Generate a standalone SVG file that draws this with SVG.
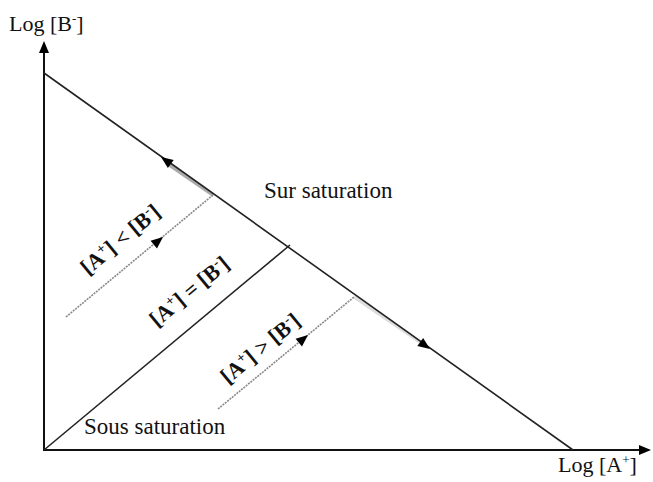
<svg xmlns="http://www.w3.org/2000/svg" width="653" height="482" viewBox="0 0 653 482">
<style>
.lbl{font-family:"Liberation Serif","Times New Roman",serif;font-size:22px;fill:#111}
.big{font-size:23px}
.rot{font-family:"Liberation Serif","Times New Roman",serif;font-size:22px;font-weight:bold;fill:#111}
.ax{stroke:#111;stroke-width:2;fill:none}
.ln{stroke:#222;stroke-width:1.6;fill:none}
.dot{stroke:#888;stroke-width:1.6;stroke-dasharray:2 1;fill:none}
.ah{fill:#000}
</style>
<rect width="653" height="482" fill="#fff"/>
<g id="connectors">
  <path class="ax" d="M44,451 V50"/>
  <path class="ax" d="M43,450 H642"/>
  <polygon class="ah" points="44,41 39,53 49,53"/>
  <polygon class="ah" points="651,450 639,445 639,455"/>
  <path d="M168,164 L213,195" stroke="#aaa" stroke-width="3.5" fill="none"/>
  <path d="M354,297 L424,345" stroke="#ddd" stroke-width="3" fill="none"/>
  <path class="ln" d="M44,73 L573,450"/>
  <path class="ln" d="M44,450 L290,245"/>
  <path class="dot" d="M66,317 L213,195"/>
  <path class="dot" d="M218,409 L354,297"/>
  <polygon class="ah" points="0,0 -12,-5 -12,5" transform="translate(161,157) rotate(-144.5)"/>
  <polygon class="ah" points="0,0 -12,-5 -12,5" transform="translate(430,349) rotate(35.5)"/>
  <polygon class="ah" points="0,0 -12,-5 -12,5" transform="translate(163,237) rotate(-39.7)"/>
  <polygon class="ah" points="0,0 -12,-5 -12,5" transform="translate(308,335) rotate(-39.7)"/>
</g>
<g id="axis-y-label"><text class="lbl" x="9" y="31">Log [B<tspan dy="-8" font-size="13">-</tspan><tspan dy="8">]</tspan></text></g>
<g id="axis-x-label"><text class="lbl" x="558" y="472">Log [A<tspan dy="-8" font-size="13">+</tspan><tspan dy="8">]</tspan></text></g>
<g id="sur"><text class="lbl big" x="264" y="198">Sur saturation</text></g>
<g id="sous"><text class="lbl big" x="84" y="434">Sous saturation</text></g>
<g id="lt"><text class="rot" text-anchor="middle" transform="translate(125,245) rotate(-39.7)">[A<tspan dy="-8" font-size="14">+</tspan><tspan dy="8">] &lt; [B</tspan><tspan dy="-8" font-size="14">-</tspan><tspan dy="8">]</tspan></text></g>
<g id="eq"><text class="rot" text-anchor="middle" transform="translate(194,297) rotate(-39.7)">[A<tspan dy="-8" font-size="14">+</tspan><tspan dy="8">] = [B</tspan><tspan dy="-8" font-size="14">-</tspan><tspan dy="8">]</tspan></text></g>
<g id="gt"><text class="rot" text-anchor="middle" transform="translate(265,354) rotate(-39.7)">[A<tspan dy="-8" font-size="14">+</tspan><tspan dy="8">] &gt; [B</tspan><tspan dy="-8" font-size="14">-</tspan><tspan dy="8">]</tspan></text></g>
</svg>
